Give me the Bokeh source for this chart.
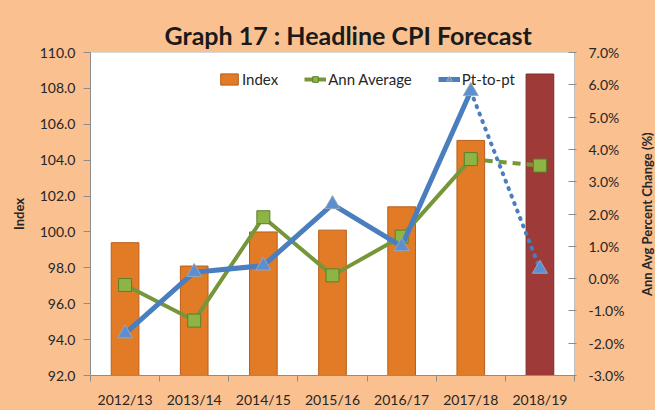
from bokeh.plotting import figure
from bokeh.layouts import row
from bokeh.models import (Range1d, LinearAxis, FixedTicker, PrintfTickFormatter,
                          Legend, LegendItem, ColumnDataSource, Title)
from bokeh.embed import file_html
from bokeh.resources import INLINE

categories = ["2012/13", "2013/14", "2014/15", "2015/16", "2016/17", "2017/18", "2018/19"]
index_vals = [99.4, 98.1, 100.0, 100.1, 101.4, 105.1, 108.8]
ann_avg = [-0.2, -1.3, 1.9, 0.1, 1.3, 3.7, 3.5]
pt_to_pt = [-1.7, 0.2, 0.4, 2.3, 1.0, 5.8, 0.3]
bar_colors = ["#E27B25"] * 6 + ["#9E3A37"]
bar_lines = ["#B85E1C"] * 6 + ["#7E2A28"]
left_ticks = [92, 94, 96, 98, 100, 102, 104, 106, 108, 110]
right_ticks = [-3, -2, -1, 0, 1, 2, 3, 4, 5, 6, 7]
right_label = "Ann Avg Percent Change (%)"

FONT = "Lato"
TXT = "#262626"
AXC = "#8C8C8C"
BG = "#FAC090"

xs = [i + 0.5 for i in range(len(categories))]
bounds = list(range(len(categories) + 1))

p = figure(width=636, height=410, output_backend="svg", toolbar_location=None,
           x_range=Range1d(0, len(categories)), y_range=Range1d(92, 110),
           min_border_left=90, min_border_right=62, min_border_top=52, min_border_bottom=32,
           background_fill_color="white", border_fill_color=BG)
p.outline_line_color = "#D9D9D9"
p.xgrid.visible = False
p.ygrid.visible = False
p.extra_y_ranges = {"pct": Range1d(-3, 7)}

title = Title(text="Graph 17 : Headline CPI Forecast", align="left",
              text_font=FONT, text_font_size="25px", text_font_style="bold",
              text_color="#1a1a1a", offset=74, standoff=6)
p.add_layout(title, "above")

# left axis
ya = p.yaxis[0]
ya.ticker = FixedTicker(ticks=left_ticks, minor_ticks=[])
ya.formatter = PrintfTickFormatter(format="%.1f")
ya.axis_label = "Index"
ya.axis_label_text_font = FONT
ya.axis_label_text_font_style = "bold"
ya.axis_label_text_font_size = "13px"
ya.axis_label_text_color = TXT
ya.axis_label_standoff = 10
ya.major_label_text_font = FONT
ya.major_label_text_font_size = "14px"
ya.major_label_text_color = TXT
ya.major_label_standoff = 8
ya.major_tick_out = 7
ya.major_tick_in = 0
ya.minor_tick_out = 0
ya.axis_line_color = AXC
ya.major_tick_line_color = AXC

# right axis
ra = LinearAxis(y_range_name="pct", ticker=FixedTicker(ticks=right_ticks, minor_ticks=[]),
                formatter=PrintfTickFormatter(format="%.1f%%"))
ra.major_label_text_font = FONT
ra.major_label_text_font_size = "14px"
ra.major_label_text_color = TXT
ra.major_label_standoff = 12
ra.major_tick_out = 2
ra.major_tick_in = 6
ra.minor_tick_out = 0
ra.axis_line_color = "#BFBFBF"
ra.major_tick_line_color = AXC
p.add_layout(ra, "right")

# bottom axis
xa = p.xaxis[0]
xa.ticker = FixedTicker(ticks=xs, minor_ticks=bounds)
xa.major_label_overrides = {x: c for x, c in zip(xs, categories)}
xa.major_label_text_font = FONT
xa.major_label_text_font_size = "14px"
xa.major_label_text_color = TXT
xa.major_label_standoff = 9
xa.major_tick_out = 0
xa.major_tick_in = 0
xa.minor_tick_out = 6
xa.minor_tick_in = 0
xa.axis_line_color = AXC
xa.minor_tick_line_color = AXC

src = ColumnDataSource(dict(x=xs, top=index_vals, color=bar_colors, lc=bar_lines))
bars = p.vbar(x="x", top="top", bottom=92, width=0.4, fill_color="color",
              line_color="lc", line_width=1, source=src)

green_line = "#77963A"
green_fill = "#8DB445"
blue_line = "#4A7EBF"
blue_fill = "#5D8ED0"

# Ann average: solid for actuals, dashed for forecast segment
ga = p.line(xs[:-1], ann_avg[:-1], y_range_name="pct", line_color=green_line, line_width=4)
p.line(xs[-2:], ann_avg[-2:], y_range_name="pct", line_color=green_line, line_width=4,
       line_dash="8 6")
gs = p.scatter(xs, ann_avg, y_range_name="pct", marker="square", size=13,
               fill_color=green_fill, line_color="#5E7F2A", line_width=1)

# Pt-to-pt: solid then dotted
bl = p.line(xs[:-1], pt_to_pt[:-1], y_range_name="pct", line_color=blue_line, line_width=5)
p.line(xs[-2:], pt_to_pt[-2:], y_range_name="pct", line_color=blue_line, line_width=4,
       line_dash="1 7", line_cap="round")
bt = p.scatter(xs, pt_to_pt, y_range_name="pct", marker="triangle", size=15,
               fill_color=blue_fill, line_color="#9AA6B8", line_width=1)

legend = Legend(items=[LegendItem(label="Index", renderers=[bars], index=0),
                       LegendItem(label="Ann Average", renderers=[ga, gs]),
                       LegendItem(label="Pt-to-pt", renderers=[bl, bt])],
                orientation="horizontal", location=(128, 287),
                background_fill_alpha=0, border_line_alpha=0,
                label_text_font=FONT, label_text_font_size="15px", label_text_color=TXT,
                glyph_width=22, glyph_height=14, label_standoff=2, spacing=26,
                padding=0, margin=0)
p.add_layout(legend, "center")

# narrow strip carrying the right-hand axis title (reads bottom-to-top)
q = figure(width=19, height=410, output_backend="svg", toolbar_location=None,
           x_range=Range1d(0, 1), y_range=Range1d(0, 1),
           min_border_left=0, min_border_right=0, min_border_top=52, min_border_bottom=32,
           background_fill_color=BG, border_fill_color=BG)
q.outline_line_color = None
q.axis.visible = False
q.grid.visible = False
q.add_layout(Title(text=right_label, align="center", text_font=FONT,
                   text_font_size="13px", text_font_style="bold", text_color=TXT,
                   standoff=0), "left")

layout = row(p, q, spacing=0, styles={"background-color": BG})
open("out.html", "w").write(file_html(layout, INLINE))
